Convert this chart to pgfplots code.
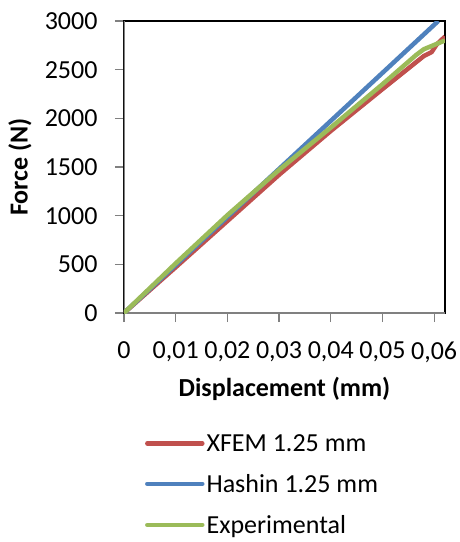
\documentclass[border=0pt]{standalone}
\usepackage{pgfplots}
\pgfplotsset{compat=1.18}
\usepackage{fontspec}
\setmainfont{Carlito}
\definecolor{xred}{HTML}{C0504D}
\definecolor{xblue}{HTML}{4F81BD}
\definecolor{xgreen}{HTML}{9BBB59}
\begin{document}
\begin{tikzpicture}[font=\fontsize{26}{31}\selectfont]
\path[use as bounding box] (0,0) rectangle (459pt,542pt);
\begin{axis}[
  at={(124pt,229pt)}, anchor=south west,
  scale only axis, width=321pt, height=292pt,
  xmin=0, xmax=0.0621, ymin=0, ymax=3000,
  scaled x ticks=false, scaled y ticks=false,
  xtick={0,0.01,0.02,0.03,0.04,0.05,0.06},
  xticklabels={0,{0,01},{0,02},{0,03},{0,04},{0,05},{0,06}},
  ytick={0,500,1000,1500,2000,2500,3000},
  axis line style={black, line width=1.2pt},
  tick style={gray, line width=1.2pt},
  tick align=outside, major tick length=9pt,
  xtick pos=left, ytick pos=left,
  xticklabel style={yshift=-16pt},
  yticklabel style={xshift=-14pt},
  /pgf/number format/assume math mode=true,
  /pgf/number format/1000 sep={},
  xlabel={\textbf{Displacement (mm)}},
  ylabel={\textbf{Force (N)}},
  xlabel style={at={(axis description cs:0.5,-0.260)}, anchor=center},
  ylabel style={at={(axis description cs:-0.324,0.5)}, anchor=center},
  legend style={draw=none, fill=none, inner sep=0pt, at={(axis description cs:0.065,0)}, anchor=north west, yshift=-119pt, row sep=17.5pt, cells={anchor=west}, font=\fontsize{26}{31}\selectfont},
  legend image code/.code={\draw[#1, line width=4.5pt, line cap=round] (0pt,0pt) -- (55pt,0pt);},
  legend cell align=left,
]
\draw[gray, line width=1.2pt] (rel axis cs:0,0) -- (rel axis cs:0,1);
\draw[gray, line width=1.2pt] (rel axis cs:0,0) -- (rel axis cs:1,0);
\addplot[xred, line width=4.5pt, line join=round] coordinates {
 (0,0) (0.01,470) (0.02,945) (0.03,1420) (0.04,1870) (0.05,2300) (0.058,2640) (0.0595,2680) (0.0605,2760) (0.0621,2840)};
\addlegendentry{XFEM 1.25 mm}
\addplot[xblue, line width=4.5pt, line join=round] coordinates {
 (0,0) (0.0608,3000)};
\addlegendentry{Hashin 1.25 mm}
\addplot[xgreen, line width=4.5pt, line join=round] coordinates {
 (0,0) (0.01,510) (0.02,1005) (0.03,1470) (0.04,1905) (0.05,2350) (0.0565,2650) (0.058,2710) (0.0621,2800)};
\addlegendentry{Experimental}
\end{axis}
\end{tikzpicture}
\end{document}
